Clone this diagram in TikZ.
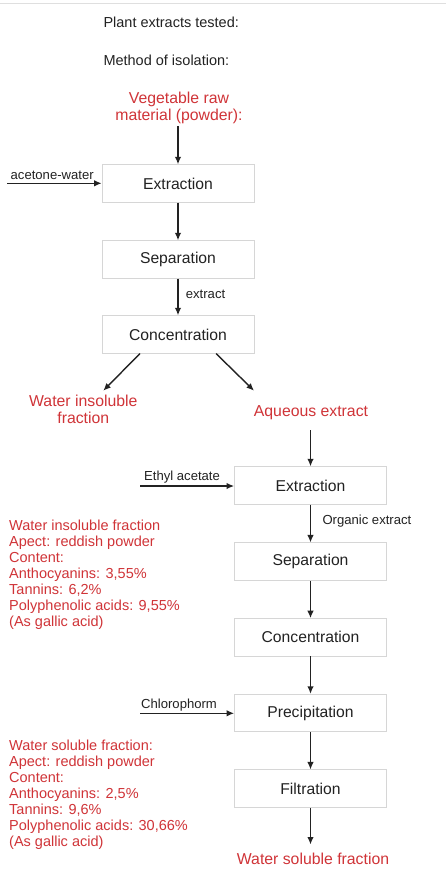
\documentclass[tikz,border=0pt]{standalone}
\usepackage{fontspec}
\setmainfont{Liberation Sans}
\usetikzlibrary{arrows.meta}
\definecolor{redtxt}{RGB}{208,52,56}
\definecolor{darktxt}{RGB}{34,34,34}
\definecolor{boxline}{RGB}{214,214,214}
\tikzset{
  procbox/.style={draw=boxline, line width=0.8pt, fill=white, minimum width=152pt, minimum height=37.5pt, inner sep=0pt, text=darktxt, font=\fontsize{15.7}{18}\selectfont},
  redhead/.style={text=redtxt, font=\fontsize{15.8}{17}\selectfont, align=center, inner sep=0pt},
  redline/.style={text=redtxt, font=\fontsize{15.8}{17}\selectfont, inner sep=0pt},
  redblock/.style={text=redtxt, font=\fontsize{14.5}{16}\selectfont, align=left, inner sep=0pt, anchor=north west},
  smalllbl/.style={text=darktxt, font=\fontsize{13.1}{15}\selectfont, inner sep=0pt, anchor=base west},
  titlelbl/.style={text=darktxt, font=\fontsize{14.5}{16}\selectfont, inner sep=0pt, anchor=base west},
  flow/.style={draw=darktxt, line width=1.4pt, -{Latex[length=7.5pt,width=6.5pt]}},
}
\begin{document}
\begin{tikzpicture}[x=1pt,y=-1pt]
\useasboundingbox (0,0) rectangle (446,870);
\fill[white] (0,0) rectangle (446,870);
\coordinate (tl) at (0,3);
\coordinate (tr) at (446,3);
\draw[gray!25, line width=0.8pt] (tl) -- (tr);

% titles
\node[titlelbl] (t1) at (103.3,27.8) {Plant extracts tested:};
\node[titlelbl] (t2) at (103.3,65.6) {Method of isolation:};

% left column
\node[redhead, anchor=north] (veg) at (179,92) {Vegetable raw\\material (powder):};
\node[procbox] (b1) at (178,183.5) {Extraction};
\node[procbox] (b2) at (178,259.5) {Separation};
\node[procbox] (b3) at (178,334.5) {Concentration};

\node[redhead, anchor=north] (wif) at (83.3,394.5) {Water insoluble\\fraction};
\node[redline, anchor=base] (aq) at (311,416.5) {Aqueous extract};

\coordinate (vegend) at (178,126);
\draw[flow] (vegend) -- (b1.north);
\draw[flow] (b1) -- (b2);
\draw[flow] (b2) -- (b3);
\node[smalllbl] (lext) at (185.7,298.8) {extract};

\coordinate (aw0) at (7.3,183.3);
\node[smalllbl] (law) at (10.5,179.3) {acetone-water};
\draw[flow] (aw0) -- (b1.west |- aw0);

\coordinate (d1s) at (140,353.5);
\coordinate (d1e) at (103.3,390.7);
\coordinate (d2s) at (216,353.5);
\coordinate (d2e) at (254,390.7);
\draw[flow] (d1s) -- (d1e);
\draw[flow] (d2s) -- (d2e);

% right column
\node[procbox] (c1) at (310.5,485.5) {Extraction};
\node[procbox] (c2) at (310.5,561.6) {Separation};
\node[procbox] (c3) at (310.5,637.3) {Concentration};
\node[procbox] (c4) at (310.5,713) {Precipitation};
\node[procbox] (c5) at (310.5,788.6) {Filtration};
\node[redline, anchor=base] (wsf) at (313,864.5) {Water soluble fraction};

\coordinate (aqend) at (310.5,430);
\draw[flow] (aqend) -- (c1.north);
\draw[flow] (c1) -- (c2);
\draw[flow] (c2) -- (c3);
\draw[flow] (c3) -- (c4);
\draw[flow] (c4) -- (c5);
\coordinate (wsfend) at (310.5,844.5);
\draw[flow] (c5.south) -- (wsfend);
\node[smalllbl] (lorg) at (322.3,524) {Organic extract};

\coordinate (ea0) at (140,486);
\node[smalllbl] (lea) at (144,480) {Ethyl acetate};
\draw[flow] (ea0) -- (c1.west |- ea0);

\coordinate (ch0) at (140,713.3);
\node[smalllbl] (lch) at (141,708.3) {Chlorophorm};
\draw[flow] (ch0) -- (c4.west |- ch0);

% red info blocks
\node[redblock] (blk1) at (9,520) {Water insoluble fraction\\Apect: reddish powder\\Content:\\Anthocyanins: 3,55\%\\Tannins: 6,2\%\\Polyphenolic acids: 9,55\%\\(As gallic acid)};
\node[redblock] (blk2) at (9,739.5) {Water soluble fraction:\\Apect: reddish powder\\Content:\\Anthocyanins: 2,5\%\\Tannins: 9,6\%\\Polyphenolic acids: 30,66\%\\(As gallic acid)};
\end{tikzpicture}
\end{document}
